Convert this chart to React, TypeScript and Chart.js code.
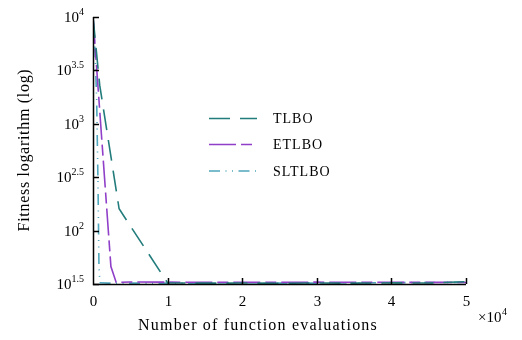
import React, { useEffect, useRef } from "react";
import { Chart, registerables } from "chart.js";

Chart.register(...registerables);

// ---- data (x = number of function evaluations, y = fitness) ----
const TLBO_X = [0, 900, 3500, 10000, 15000, 20000, 25000, 30000, 35000, 40000, 45000, 50000];
const TLBO_Y = [10000, 2300, 160, 32.4, 32.2, 32.3, 32.1, 32.3, 32.2, 32.4, 32.3, 33.2];

const ETLBO_X = [0, 2400, 3100, 5000, 10000, 20000, 30000, 40000, 50000];
const ETLBO_Y = [10000, 46, 32.8, 33.0, 32.9, 32.8, 32.9, 32.8, 32.7];

const SLTLBO_X = [0, 270, 490, 670, 800, 930, 2000, 10000, 20000, 30000, 40000, 50000];
const SLTLBO_Y = [10000, 4900, 1700, 280, 46, 32.5, 32.2, 32.2, 32.3, 32.2, 32.5, 32.8];

const SERIES_NAMES = ["TLBO", "ETLBO", "SLTLBO"];
const Y_TICK_EXPONENTS = ["1.5", "2", "2.5", "3", "3.5", "4"];
const X_TICKS = [0, 1, 2, 3, 4, 5];
const X_SCALE = 10000;
const X_TITLE = "Number of function evaluations";
const Y_TITLE = "Fitness logarithm (log)";

const FONT = '"Liberation Serif", "Times New Roman", serif';
const COLORS = ["#237c7c", "#8f3fc8", "#4fa6bc"];
const DASHES = [
  [21, 10],
  [27, 5, 11, 5],
  [11, 5.5, 1, 5.5, 1, 5.5],
];

const pts = (xs: number[], ys: number[]) => xs.map((x, i) => ({ x, y: ys[i] }));

const decorPlugin = {
  id: "decor",
  afterDraw(chart: any) {
    const { ctx, chartArea, scales } = chart;
    const { left, right, top, bottom } = chartArea;
    const xs = scales.x;
    const ys = scales.y;
    ctx.save();
    ctx.strokeStyle = "#000";
    ctx.fillStyle = "#000";
    ctx.lineWidth = 1.5;
    ctx.setLineDash([]);
    // axes
    ctx.beginPath();
    ctx.moveTo(left + 0.5, top);
    ctx.lineTo(left + 0.5, bottom + 0.5);
    ctx.lineTo(right, bottom + 0.5);
    ctx.stroke();
    // y ticks + labels
    for (const e of Y_TICK_EXPONENTS) {
      const py = Math.round(ys.getPixelForValue(Math.pow(10, parseFloat(e)))) + 0.5;
      ctx.beginPath();
      ctx.moveTo(left, py);
      ctx.lineTo(left + 6, py);
      ctx.stroke();
      ctx.font = `15px ${FONT}`;
      const baseW = ctx.measureText("10").width;
      ctx.font = `10px ${FONT}`;
      const expW = ctx.measureText(e).width;
      const rightEdge = 84;
      ctx.textBaseline = "middle";
      ctx.textAlign = "left";
      ctx.font = `15px ${FONT}`;
      ctx.fillText("10", rightEdge - expW - baseW, py + 1);
      ctx.font = `10px ${FONT}`;
      ctx.fillText(e, rightEdge - expW, py - 5);
    }
    // x ticks + labels
    for (const t of X_TICKS) {
      const px = Math.round(xs.getPixelForValue(t * X_SCALE)) + 0.5;
      if (t > 0) {
        ctx.beginPath();
        ctx.moveTo(px, bottom);
        ctx.lineTo(px, bottom - 6);
        ctx.stroke();
      }
      ctx.font = `15px ${FONT}`;
      ctx.textAlign = "center";
      ctx.textBaseline = "middle";
      ctx.fillText(String(t), px, 302);
    }
    // x multiplier
    ctx.textAlign = "left";
    ctx.font = `15px ${FONT}`;
    ctx.fillText("\u00d710", 478, 318);
    const mw = ctx.measureText("\u00d710").width;
    ctx.font = `10px ${FONT}`;
    ctx.fillText("4", 478 + mw + 0.5, 312);
    // axis titles
    ctx.font = `16px ${FONT}`;
    ctx.textAlign = "center";
    (ctx as any).letterSpacing = "1.2px";
    ctx.fillText(X_TITLE, 258, 326);
    ctx.save();
    ctx.translate(25, 150);
    ctx.rotate(-Math.PI / 2);
    ctx.font = `16px ${FONT}`;
    (ctx as any).letterSpacing = "0.7px";
    ctx.fillText(Y_TITLE, 0, 0);
    ctx.restore();
    // legend
    const legendY = [118.5, 144.5, 171];
    ctx.lineWidth = 1.6;
    SERIES_NAMES.forEach((name, i) => {
      ctx.strokeStyle = COLORS[i];
      ctx.setLineDash(DASHES[i]);
      ctx.beginPath();
      ctx.moveTo(209, legendY[i]);
      ctx.lineTo(257, legendY[i]);
      ctx.stroke();
      ctx.setLineDash([]);
      ctx.font = `14px ${FONT}`;
      (ctx as any).letterSpacing = "1px";
      ctx.textAlign = "left";
      ctx.textBaseline = "middle";
      ctx.fillStyle = "#000";
      ctx.fillText(name, 273, legendY[i] + 1);
    });
    (ctx as any).letterSpacing = "0px";
    ctx.restore();
  },
};

export default function App() {
  const ref = useRef<HTMLCanvasElement>(null);
  useEffect(() => {
    if (!ref.current) return;
    const series = [
      pts(TLBO_X, TLBO_Y),
      pts(ETLBO_X, ETLBO_Y),
      pts(SLTLBO_X, SLTLBO_Y),
    ];
    const chart = new Chart(ref.current, {
      type: "line",
      data: {
        datasets: SERIES_NAMES.map((name, i) => ({
          label: name,
          data: series[i],
          borderColor: COLORS[i],
          backgroundColor: COLORS[i],
          borderDash: DASHES[i],
          borderWidth: 1.6,
          pointRadius: 0,
          tension: 0,
          fill: false,
        })),
      },
      options: {
        responsive: false,
        animation: false,
        devicePixelRatio: 1,
        layout: { padding: { left: 93, right: 56, top: 17, bottom: 56 } },
        plugins: { legend: { display: false }, tooltip: { enabled: false } },
        scales: {
          x: { type: "linear", min: 0, max: 50000, display: false },
          y: { type: "logarithmic", min: Math.pow(10, 1.5), max: 10000, display: false },
        },
      },
      plugins: [decorPlugin],
    } as any);
    return () => chart.destroy();
  }, []);
  return (
    <div style={{ position: "fixed", left: 0, top: 0, width: 522, height: 340, background: "#fff" }}>
      <canvas ref={ref} width={522} height={340} style={{ display: "block" }} />
    </div>
  );
}
